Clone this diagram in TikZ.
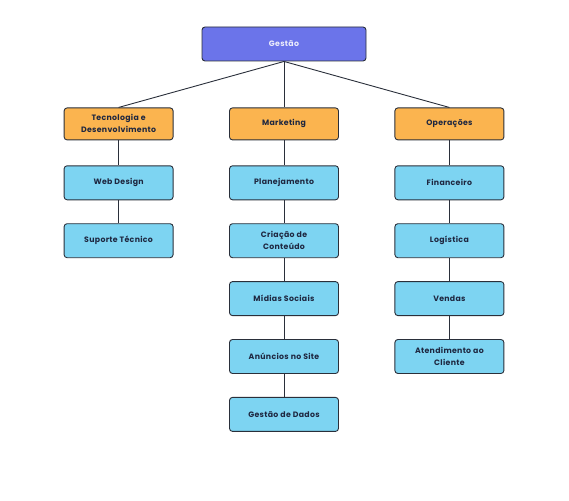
\documentclass[tikz,border=0pt]{standalone}
\usepackage{fontspec}
\setmainfont{Poppins}[LetterSpace=4]
\usetikzlibrary{positioning}
\definecolor{topblue}{HTML}{6B74EA}
\definecolor{areaorange}{HTML}{FBB44F}
\definecolor{taskblue}{HTML}{7DD4F2}
\definecolor{inkdark}{HTML}{1E2740}
\definecolor{edgedark}{HTML}{2A2F3A}
\begin{document}
\begin{tikzpicture}[
        base/.style={draw=edgedark, line width=0.9pt, rectangle, rounded corners=3pt, align=center, font=\fontsize{7.8}{12}\selectfont\bfseries, text=inkdark},
        head/.style={base, fill=topblue, text=white!88!topblue, minimum width=164pt, minimum height=34pt},
        area/.style={base, fill=areaorange, minimum width=109pt, minimum height=32pt},
        task/.style={base, fill=taskblue, minimum width=109pt, minimum height=34pt},
        link/.style={draw=edgedark, line width=0.9pt}
    ]
    \useasboundingbox (0,0) rectangle (569pt,-500pt);
    \node[head] (gestao) at (284pt,-44pt) {Gestão};
    % areas
    \node[area, below=46pt of gestao] (mkt) {Marketing};
    \node[area, left=55.5pt of mkt] (tec) {Tecnologia e\\Desenvolvimento};
    \node[area, right=55.5pt of mkt] (ops) {Operações};
    % tecnologia
    \node[task, below=25pt of tec] (web) {Web Design};
    \node[task, below=23pt of web] (sup) {Suporte Técnico};
    % marketing
    \node[task, below=25pt of mkt] (plan) {Planejamento};
    \node[task, below=23pt of plan] (cria) {Criação de\\Conteúdo};
    \node[task, below=23pt of cria] (mid) {Mídias Sociais};
    \node[task, below=23pt of mid] (anu) {Anúncios no Site};
    \node[task, below=23pt of anu] (dados) {Gestão de Dados};
    % operacoes
    \node[task, below=25pt of ops] (fin) {Financeiro};
    \node[task, below=23pt of fin] (log) {Logística};
    \node[task, below=23pt of log] (ven) {Vendas};
    \node[task, below=23pt of ven] (ate) {Atendimento ao\\Cliente};

    \draw[link] (gestao.south) -- (tec.north);
    \draw[link] (gestao.south) -- (mkt.north);
    \draw[link] (gestao.south) -- (ops.north);
    \draw[link] (tec) -- (web);
    \draw[link] (web) -- (sup);
    \draw[link] (mkt) -- (plan);
    \draw[link] (plan) -- (cria);
    \draw[link] (cria) -- (mid);
    \draw[link] (mid) -- (anu);
    \draw[link] (anu) -- (dados);
    \draw[link] (ops) -- (fin);
    \draw[link] (fin) -- (log);
    \draw[link] (log) -- (ven);
    \draw[link] (ven) -- (ate);
\end{tikzpicture}
\end{document}
